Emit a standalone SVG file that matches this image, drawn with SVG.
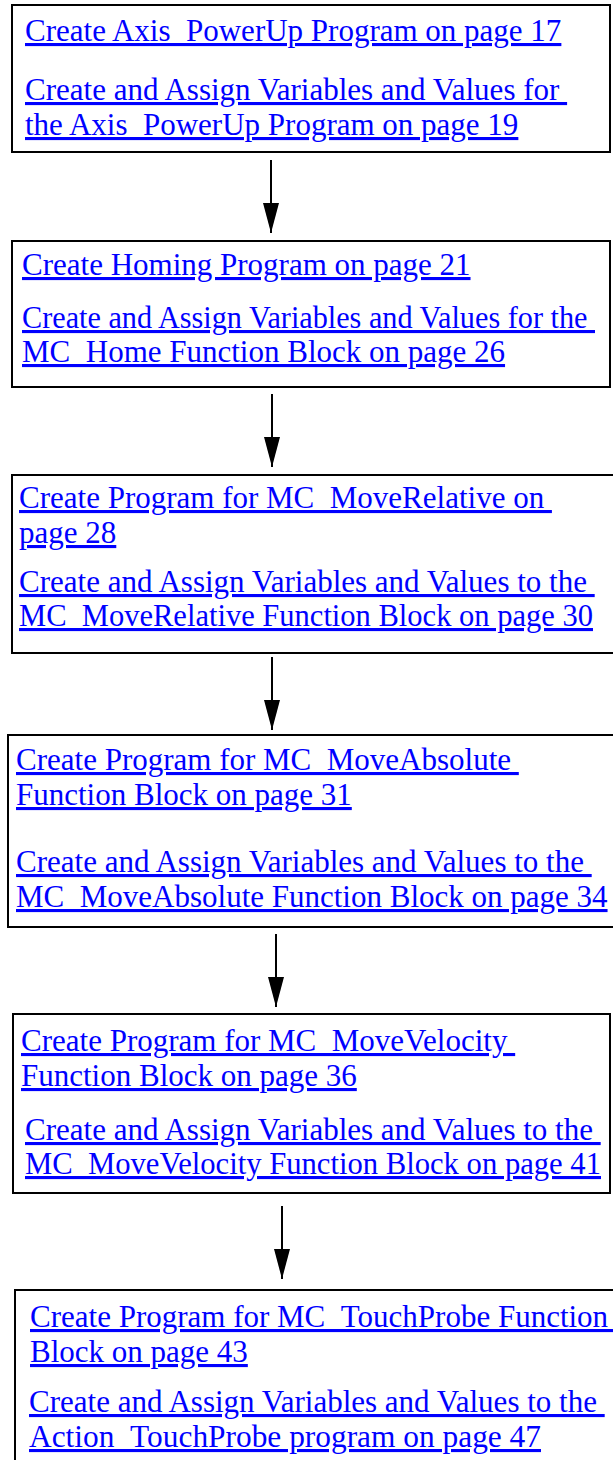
<svg xmlns="http://www.w3.org/2000/svg" width="613" height="1460" viewBox="0 0 613 1460">
<style>
.box{fill:#fff;stroke:#000;stroke-width:2}
.t{font-family:"Liberation Serif",serif;font-size:31px;fill:#0000ff;text-decoration:underline;white-space:pre}
.c{stroke:#000;stroke-width:2;fill:none}
</style>
<defs>
<marker id="ah" markerUnits="userSpaceOnUse" viewBox="0 0 30 16" refX="30" refY="8" markerWidth="30" markerHeight="16" orient="auto">
<path d="M0,0 L30,8 L0,16 z" fill="#000"/>
</marker>
</defs>
<rect width="613" height="1460" fill="#fff"/>
<g id="connectors">
<line class="c" x1="271" y1="160" x2="271" y2="233" marker-end="url(#ah)"/>
<line class="c" x1="272" y1="394" x2="272" y2="467" marker-end="url(#ah)"/>
<line class="c" x1="272" y1="657" x2="272" y2="730" marker-end="url(#ah)"/>
<line class="c" x1="276" y1="934" x2="276" y2="1007" marker-end="url(#ah)"/>
<line class="c" x1="282" y1="1206" x2="282" y2="1279" marker-end="url(#ah)"/>
</g>
<g id="node1">
<rect class="box" x="12" y="5" width="598" height="147"/>
<text class="t" x="25" y="41">Create Axis_PowerUp Program on page 17</text>
<text class="t" x="25" y="100">Create and Assign Variables and Values for </text>
<text class="t" x="25" y="135">the Axis_PowerUp Program on page 19</text>
</g>
<g id="node2">
<rect class="box" x="12" y="241" width="598" height="146"/>
<text class="t" x="22" y="275">Create Homing Program on page 21</text>
<text class="t" x="22" y="328" textLength="573" lengthAdjust="spacingAndGlyphs">Create and Assign Variables and Values for the </text>
<text class="t" x="22" y="362">MC_Home Function Block on page 26</text>
</g>
<g id="node3">
<rect class="box" x="12" y="475" width="603" height="178"/>
<text class="t" x="19" y="508">Create Program for MC_MoveRelative on </text>
<text class="t" x="19" y="543">page 28</text>
<text class="t" x="19" y="592">Create and Assign Variables and Values to the </text>
<text class="t" x="19" y="626" textLength="574" lengthAdjust="spacingAndGlyphs">MC_MoveRelative Function Block on page 30</text>
</g>
<g id="node4">
<rect class="box" x="8" y="735" width="607" height="192"/>
<text class="t" x="16" y="770">Create Program for MC_MoveAbsolute </text>
<text class="t" x="16" y="805">Function Block on page 31</text>
<text class="t" x="16" y="872">Create and Assign Variables and Values to the </text>
<text class="t" x="16" y="907">MC_MoveAbsolute Function Block on page 34</text>
</g>
<g id="node5">
<rect class="box" x="13" y="1014" width="597" height="179"/>
<text class="t" x="21" y="1051">Create Program for MC_MoveVelocity </text>
<text class="t" x="21" y="1086">Function Block on page 36</text>
<text class="t" x="25" y="1140">Create and Assign Variables and Values to the </text>
<text class="t" x="25" y="1174" textLength="576" lengthAdjust="spacingAndGlyphs">MC_MoveVelocity Function Block on page 41</text>
</g>
<g id="node6">
<rect class="box" x="15" y="1290" width="610" height="190"/>
<text class="t" x="30" y="1327">Create Program for MC_TouchProbe Function </text>
<text class="t" x="30" y="1362">Block on page 43</text>
<text class="t" x="29" y="1412">Create and Assign Variables and Values to the </text>
<text class="t" x="29" y="1447" textLength="512" lengthAdjust="spacingAndGlyphs">Action_TouchProbe program on page 47</text>
</g>
</svg>
